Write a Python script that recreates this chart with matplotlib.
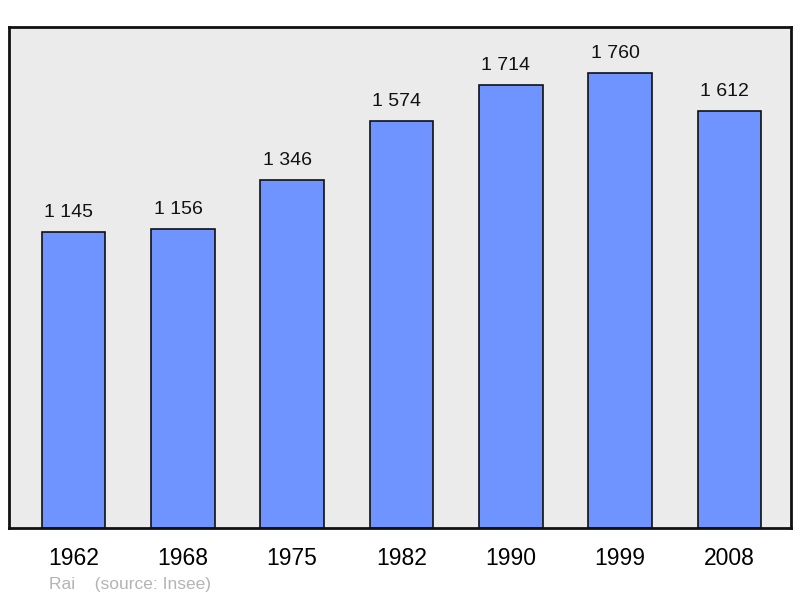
import matplotlib
matplotlib.use('Agg')
import matplotlib.pyplot as plt

years = ['1962', '1968', '1975', '1982', '1990', '1999', '2008']
population = [1145, 1156, 1346, 1574, 1714, 1760, 1612]
value_labels = ['1 145', '1 156', '1 346', '1 574', '1 714', '1 760', '1 612']

plt.rcParams['font.family'] = ['Liberation Sans', 'DejaVu Sans']

fig = plt.figure(figsize=(8, 5.98), dpi=100)
ax = fig.add_axes([9 / 800, 70 / 598, 782 / 800, 501 / 598])
ax.set_facecolor('#ebebeb')

x = range(len(years))
bars = ax.bar(x, population, width=0.58, color='#7094ff',
              edgecolor='#111111', linewidth=1.2, zorder=2)

for b, lab in zip(bars, value_labels):
    ax.annotate(lab, (b.get_x() + b.get_width() / 2, b.get_height()),
                xytext=(-3.5, 8), textcoords='offset points',
                ha='center', va='bottom', fontsize=14, color='#111111')

ax.set_xlim(-0.59, 6.563)
ax.set_ylim(0, 1938)
ax.set_xticks(list(x))
ax.set_xticklabels(years, fontsize=16.5)
ax.tick_params(axis='x', length=0, pad=13.5)
ax.set_yticks([])
for s in ax.spines.values():
    s.set_linewidth(2)
    s.set_color('#111111')

fig.text(49 / 800, 1 - 584 / 598, 'Rai    (source: Insee)', fontsize=12.5,
         color='#b4b4b4', va='center', ha='left')

fig.savefig('out.png', dpi=100)
